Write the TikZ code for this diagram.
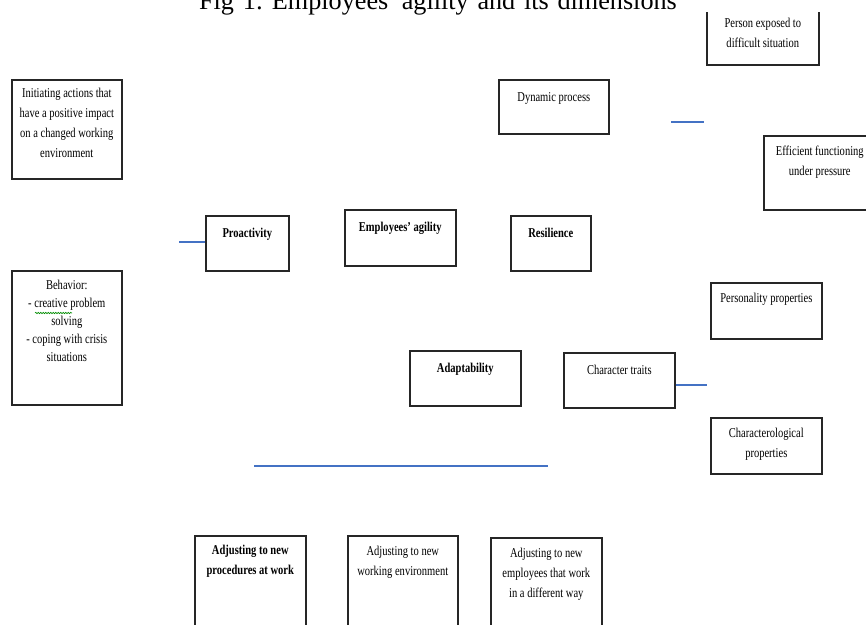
\documentclass[tikz,border=0pt]{standalone}
\usepackage{fontspec}
\setmainfont{Liberation Serif}[FakeStretch=0.78]
\newfontfamily\titlefont{Liberation Serif}
\usepackage{tikz}
\usetikzlibrary{positioning}
\usetikzlibrary{decorations.pathmorphing}
\definecolor{wordblue}{HTML}{4472C4}
\frenchspacing

\begin{document}
\begin{tikzpicture}[x=1pt, y=-1pt]
% -------------------------------------------------
\tikzset{
  base/.style={draw=black!85, line width=1.6pt, anchor=north west, align=flush center,
               inner xsep=2pt, inner ysep=0pt, font=\fontsize{13.5}{20}\selectfont},
  proc/.style={base, rectangle},
  procbold/.style={base, rectangle, font=\fontsize{13.5}{20}\selectfont\bfseries},
  line/.style={draw=wordblue, line width=1.7pt}
}
\useasboundingbox (0,0) rectangle (866,624);

% left column
\node [proc, text width=106pt, text height=18pt, text depth=81pt] (init) at (11,79)
  {Initiating actions that\\have a positive impact\\on a changed working\\environment};
\node [proc, text width=106pt, text height=19pt, text depth=115pt,
       font=\fontsize{13.5}{18}\selectfont] (beh) at (11,270)
  {Behavior:\\- creative problem\\solving\\- coping with crisis\\situations};

% middle row
\node [procbold, text width=79pt, text height=22pt, text depth=33pt] (proa) at (205,215) {Proactivity};
\node [procbold, text width=107pt, text height=22pt, text depth=34pt] (agil) at (344,209) {Employees' agility};
\node [procbold, text width=76pt, text height=22pt, text depth=33pt] (resi) at (510,215) {Resilience};
\node [procbold, text width=107pt, text height=22pt, text depth=33pt] (adap) at (409,350) {Adaptability};
\node [proc, text width=107pt, text height=22pt, text depth=33pt] (char) at (563,352) {Character traits};

% resilience branch
\node [proc, text width=106pt, text height=22pt, text depth=32pt] (dyna) at (498,79) {Dynamic process};
\node [proc, text width=108pt, text height=30pt, text depth=37pt] (pers) at (706,-3)
  {Person exposed to\\difficult situation};
\node [proc, text width=108pt, text height=20pt, text depth=54pt] (effi) at (763,135)
  {Efficient functioning\\under pressure};

% character branch
\node [proc, text width=107pt, text height=20pt, text depth=36pt] (pers2) at (710,282) {Personality properties};
\node [proc, text width=107pt, text height=20pt, text depth=36pt] (chlg) at (710,417)
  {Characterological\\properties};

% adaptability branch
\node [procbold, text width=107pt, text height=19pt, text depth=81pt] (adj1) at (194,535)
  {Adjusting to new\\procedures at work};
\node [proc, text width=106pt, text height=20pt, text depth=80pt] (adj2) at (347,535)
  {Adjusting to new\\working environment};
\node [proc, text width=107pt, text height=20pt, text depth=80pt] (adj3) at (490,537)
  {Adjusting to new\\employees that work\\in a different way};

% title, its white band hides the top of the upper right box
\node [font=\titlefont\fontsize{26.2}{30}\selectfont, anchor=base, fill=white,
       text width=860pt, align=center, text depth=0pt, inner ysep=2.5pt] (title) at (438,9)
  {Fig 1: Employees' agility and its dimensions};

% spell-check squiggle
\draw [green!55!black, line width=0.6pt, decorate,
       decoration={snake, amplitude=0.7pt, segment length=2.5pt}]
  ([shift={(24,43)}]beh.north west) -- ([shift={(61,43)}]beh.north west);

% connector pieces
\coordinate (proaend) at (179,242);
\coordinate (dynaa) at (671,122);
\coordinate (dynab) at (704,122);
\coordinate (chara) at (674,385);
\coordinate [right=33pt of chara] (charb);
\coordinate (adapa) at (254,466);
\coordinate (adapb) at (548,466);

\path [line] (proaend) -- (proaend -| proa.west);
\path [line] (dynaa) -- (dynab);
\path [line] (chara -| char.east) -- (charb);
\path [line] (adapa) -- (adapb);

\end{tikzpicture}
\end{document}
